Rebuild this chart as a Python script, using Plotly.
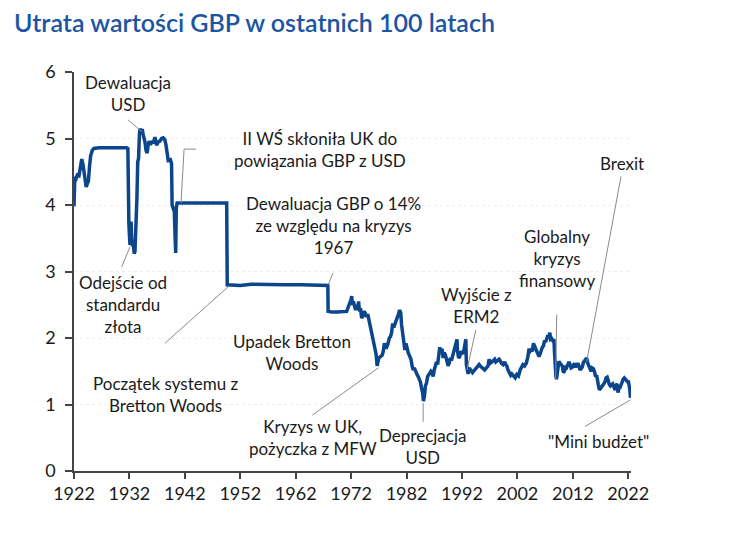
import plotly.graph_objects as go

# ---- data ----
years = [
    1922.00, 1922.05, 1922.15, 1922.4, 1922.6, 1922.9, 1923.2, 1923.4, 1923.6, 1923.8,
    1924.0, 1924.2, 1924.4, 1924.6, 1924.8, 1925.0, 1925.3, 1925.6, 1926.5, 1927.5,
    1928.5, 1929.5, 1930.5, 1931.5, 1931.72, 1931.8, 1931.9, 1932.0, 1932.1, 1932.2,
    1932.3, 1932.4, 1932.55, 1932.7, 1932.85, 1933.0, 1933.2, 1933.35, 1933.5, 1933.65,
    1933.8, 1933.9, 1934.1, 1934.3, 1934.5, 1934.8, 1935.0, 1935.2, 1935.4, 1935.6,
    1935.8, 1936.0, 1936.3, 1936.6, 1936.9, 1937.2, 1937.5, 1937.8, 1938.1, 1938.4,
    1938.6, 1938.8, 1939.0, 1939.4, 1939.6, 1939.7, 1939.9, 1940.1, 1940.25, 1940.35,
    1940.45, 1940.6, 1941.0, 1943.0, 1945.0, 1947.0, 1949.55, 1949.65, 1952.0, 1954.0,
    1957.0, 1960.0, 1963.0, 1966.0, 1967.8, 1967.85, 1968.5, 1969.5, 1970.5, 1971.2,
    1971.5, 1971.8, 1972.0, 1972.1, 1972.25, 1972.4, 1972.6, 1972.8, 1973.0, 1973.2,
    1973.35, 1973.5, 1973.7, 1973.9, 1974.1, 1974.3, 1974.5, 1974.8, 1975.0, 1975.2,
    1975.4, 1975.6, 1975.9, 1976.1, 1976.3, 1976.5, 1976.7, 1976.85, 1977.0, 1977.3,
    1977.6, 1977.8, 1978.0, 1978.3, 1978.6, 1978.9, 1979.1, 1979.3, 1979.5, 1979.7,
    1979.9, 1980.1, 1980.3, 1980.5, 1980.75, 1980.95, 1981.1, 1981.3, 1981.5, 1981.7,
    1981.9, 1982.1, 1982.3, 1982.6, 1982.8, 1983.0, 1983.2, 1983.4, 1983.6, 1983.9,
    1984.1, 1984.3, 1984.5, 1984.7, 1984.9, 1985.05, 1985.25, 1985.4, 1985.6, 1985.8,
    1986.0, 1986.2, 1986.4, 1986.6, 1986.8, 1987.0, 1987.2, 1987.4, 1987.6, 1987.8,
    1988.0, 1988.2, 1988.4, 1988.6, 1988.8, 1989.0, 1989.3, 1989.5, 1989.7, 1989.9,
    1990.1, 1990.3, 1990.5, 1990.7, 1990.9, 1991.1, 1991.2, 1991.4, 1991.6, 1991.8,
    1992.0, 1992.2, 1992.4, 1992.6, 1992.7, 1992.8, 1992.95, 1993.1, 1993.3, 1993.5,
    1993.7, 1993.9, 1994.1, 1994.3, 1994.6, 1994.9, 1995.1, 1995.3, 1995.6, 1995.9,
    1996.1, 1996.4, 1996.7, 1996.9, 1997.1, 1997.4, 1997.6, 1997.9, 1998.1, 1998.4,
    1998.7, 1998.9, 1999.1, 1999.4, 1999.7, 1999.9, 2000.1, 2000.3, 2000.6, 2000.8,
    2001.0, 2001.3, 2001.6, 2001.9, 2002.2, 2002.5, 2002.8, 2003.0, 2003.3, 2003.6,
    2003.9, 2004.1, 2004.3, 2004.5, 2004.7, 2004.9, 2005.1, 2005.3, 2005.6, 2005.9,
    2006.1, 2006.3, 2006.5, 2006.7, 2006.9, 2007.1, 2007.3, 2007.5, 2007.7, 2007.85,
    2008.0, 2008.2, 2008.4, 2008.6, 2008.7, 2008.8, 2008.95, 2009.05, 2009.2, 2009.35,
    2009.5, 2009.7, 2009.9, 2010.1, 2010.3, 2010.5, 2010.7, 2010.9, 2011.1, 2011.3,
    2011.5, 2011.7, 2011.9, 2012.1, 2012.3, 2012.5, 2012.7, 2012.9, 2013.1, 2013.3,
    2013.5, 2013.7, 2013.9, 2014.1, 2014.3, 2014.5, 2014.7, 2014.9, 2015.1, 2015.3,
    2015.5, 2015.7, 2015.9, 2016.1, 2016.3, 2016.45, 2016.6, 2016.8, 2017.0, 2017.2,
    2017.4, 2017.6, 2017.8, 2018.0, 2018.2, 2018.4, 2018.6, 2018.8, 2019.0, 2019.2,
    2019.4, 2019.6, 2019.8, 2020.0, 2020.15, 2020.3, 2020.5, 2020.7, 2020.9, 2021.1,
    2021.3, 2021.5, 2021.7, 2021.9, 2022.0, 2022.15, 2022.3, 2022.4,
]
gbp_usd = [
    3.98, 4.30, 4.42, 4.40, 4.45, 4.44, 4.62, 4.69, 4.62, 4.52,
    4.36, 4.27, 4.32, 4.36, 4.58, 4.74, 4.82, 4.85, 4.86, 4.86,
    4.87, 4.86, 4.86, 4.86, 4.85, 3.90, 3.72, 3.55, 3.40, 3.62,
    3.75, 3.50, 3.38, 3.45, 3.27, 3.30, 3.65, 4.10, 4.65, 4.70,
    5.05, 5.15, 5.10, 5.14, 5.05, 4.95, 4.82, 4.78, 4.92, 4.96,
    4.90, 4.96, 4.93, 5.02, 4.90, 4.95, 4.96, 5.00, 5.01, 4.98,
    4.90, 4.72, 4.67, 4.68, 4.62, 4.00, 3.95, 3.90, 3.50, 3.28,
    3.95, 4.03, 4.03, 4.03, 4.02, 4.03, 4.03, 2.80, 2.79, 2.81,
    2.80, 2.80, 2.80, 2.79, 2.79, 2.40, 2.39, 2.39, 2.40, 2.40,
    2.47, 2.52, 2.58, 2.63, 2.50, 2.55, 2.45, 2.42, 2.50, 2.46,
    2.55, 2.40, 2.45, 2.30, 2.33, 2.40, 2.38, 2.32, 2.36, 2.28,
    2.20, 2.12, 2.02, 1.93, 1.80, 1.76, 1.58, 1.66, 1.70, 1.72,
    1.74, 1.80, 1.92, 1.84, 1.90, 2.00, 2.02, 2.08, 2.22, 2.16,
    2.20, 2.26, 2.28, 2.35, 2.42, 2.38, 2.20, 2.05, 1.86, 1.82,
    1.92, 1.82, 1.78, 1.72, 1.68, 1.58, 1.52, 1.55, 1.50, 1.45,
    1.42, 1.38, 1.34, 1.25, 1.18, 1.05, 1.14, 1.28, 1.32, 1.42,
    1.44, 1.46, 1.50, 1.48, 1.42, 1.52, 1.57, 1.64, 1.60, 1.70,
    1.86, 1.78, 1.84, 1.70, 1.78, 1.75, 1.62, 1.58, 1.62, 1.70,
    1.66, 1.72, 1.82, 1.88, 1.94, 1.98, 1.80, 1.70, 1.72, 1.80,
    1.78, 1.76, 1.84, 1.94, 1.98, 1.60, 1.50, 1.46, 1.55, 1.52,
    1.50, 1.48, 1.50, 1.52, 1.55, 1.58, 1.60, 1.58, 1.56, 1.54,
    1.52, 1.55, 1.58, 1.68, 1.62, 1.64, 1.66, 1.68, 1.64, 1.66,
    1.68, 1.66, 1.62, 1.60, 1.64, 1.60, 1.58, 1.52, 1.48, 1.44,
    1.46, 1.42, 1.40, 1.45, 1.43, 1.52, 1.56, 1.60, 1.58, 1.62,
    1.72, 1.84, 1.80, 1.82, 1.80, 1.92, 1.88, 1.84, 1.76, 1.72,
    1.76, 1.84, 1.86, 1.88, 1.96, 1.94, 1.98, 2.04, 2.02, 2.08,
    1.98, 1.99, 1.96, 1.98, 1.78, 1.55, 1.42, 1.38, 1.45, 1.55,
    1.65, 1.62, 1.60, 1.58, 1.48, 1.50, 1.58, 1.56, 1.60, 1.64,
    1.60, 1.55, 1.56, 1.58, 1.62, 1.56, 1.60, 1.62, 1.58, 1.52,
    1.54, 1.56, 1.63, 1.65, 1.68, 1.70, 1.62, 1.57, 1.52, 1.50,
    1.55, 1.54, 1.50, 1.42, 1.44, 1.32, 1.30, 1.22, 1.24, 1.25,
    1.29, 1.31, 1.34, 1.40, 1.41, 1.34, 1.30, 1.28, 1.30, 1.31,
    1.27, 1.22, 1.29, 1.31, 1.18, 1.24, 1.25, 1.30, 1.34, 1.38,
    1.40, 1.38, 1.36, 1.34, 1.36, 1.30, 1.22, 1.10,
]

x_ticks = [1922, 1932, 1942, 1952, 1962, 1972, 1982, 1992, 2002, 2012, 2022]
y_ticks = [0, 1, 2, 3, 4, 5, 6]

# annotation texts with (text position) and leader-line points, in data coords
labels = [
    ("Dewaluacja<br>USD", 1931.75, 5.67),
    ("II WŚ skłoniła UK do<br>powiązania GBP z USD", 1966.4, 4.835),
    ("Dewaluacja GBP o 14%<br>ze względu na kryzys<br>1967", 1968.75, 3.69),
    ("Odejście od<br>standardu<br>złota", 1930.85, 2.50),
    ("Upadek Bretton<br>Woods", 1961.35, 1.78),
    ("Początek systemu z<br>Bretton Woods", 1938.6, 1.15),
    ("Kryzys w UK,<br>pożyczka z MFW", 1965.1, 0.51),
    ("Deprecjacja<br>USD", 1984.8, 0.37),
    ("Wyjście z<br>ERM2", 1994.6, 2.49),
    ("Globalny<br>kryzys<br>finansowy", 2009.2, 3.20),
    ("Brexit", 2020.9, 4.63),
    ("\"Mini budżet\"", 2016.6, 0.45),
]
leaders = [
    [(1931.75, 5.28), (1934.27, 5.10)],
    [(1944.02, 4.84), (1941.86, 4.84), (1941.31, 4.03)],
    [(1968.75, 2.98), (1967.85, 2.80)],
    [(1930.6, 3.07), (1932.1, 3.37)],
    [(1938.4, 1.92), (1949.8, 2.77)],
    [(1965.0, 0.84), (1976.9, 1.55)],
    [(1985.0, 1.02), (1985.0, 0.74)],
    [(1994.5, 2.12), (1992.9, 1.52)],
    [(2009.1, 2.35), (2008.9, 1.37)],
    [(2020.7, 4.43), (2014.5, 1.64)],
    [(2014.2, 0.67), (2022.4, 1.07)],
]

FONT = "Lato"
fig = go.Figure()
fig.add_trace(go.Scatter(
    x=years, y=gbp_usd, mode="lines",
    line=dict(color="#0b468c", width=3.5),
    hoverinfo="skip", showlegend=False,
))

for pts in leaders:
    path = "M " + " L ".join(f"{px},{py}" for px, py in pts)
    fig.add_shape(type="path", path=path, xref="x", yref="y",
                  line=dict(color="#8a8a8a", width=1))

for text, tx, ty in labels:
    fig.add_annotation(x=tx, y=ty, xref="x", yref="y", text=text,
                       showarrow=False, align="center",
                       xanchor="center", yanchor="middle",
                       font=dict(family=FONT, size=17, color="#1a1a1a"))

fig.update_layout(
    width=740, height=550,
    margin=dict(l=66, r=117, t=64, b=87),
    paper_bgcolor="white", plot_bgcolor="white",
    title=dict(text="Utrata wartości GBP w ostatnich 100 latach",
               x=6 / 740, xanchor="left", xref="container",
               y=1 - 6 / 550, yanchor="top", yref="container",
               font=dict(family=FONT, size=25, color="#1b55a3", weight=600)),
    font=dict(family=FONT, color="#1a1a1a"),
)
fig.update_xaxes(range=[1922, 2022.5], tickmode="array", tickvals=x_ticks,
                 ticktext=[str(v) for v in x_ticks],
                 showline=True, linecolor="#444", linewidth=1.5,
                 ticks="outside", ticklen=6, tickcolor="#444", tickwidth=1.5,
                 showgrid=False, zeroline=False,
                 tickfont=dict(family=FONT, size=18, color="#1a1a1a"))
fig.update_yaxes(range=[0, 6], tickmode="array", tickvals=y_ticks,
                 showline=True, linecolor="#444", linewidth=1.5,
                 ticks="outside", ticklen=7, tickcolor="#444", tickwidth=1.5,
                 showgrid=True, gridcolor="#efefef", griddash="dot", gridwidth=1,
                 zeroline=False, ticklabelstandoff=6,
                 tickfont=dict(family=FONT, size=18, color="#1a1a1a"))

fig.write_html("out.html")
